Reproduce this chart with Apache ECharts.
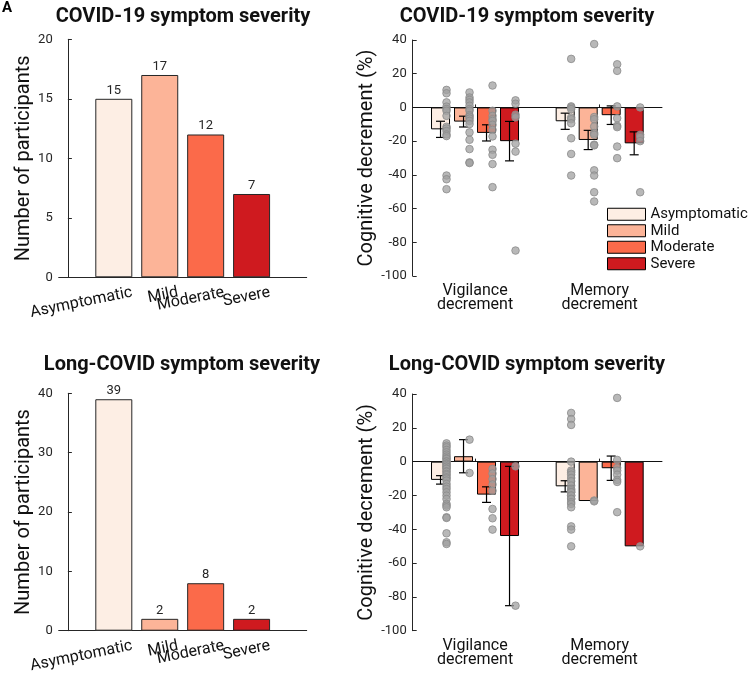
<!DOCTYPE html>
<html><head><meta charset="utf-8">
<script src="https://cdn.jsdelivr.net/npm/echarts@6/dist/echarts.min.js"></script>
<style>html,body{margin:0;padding:0;background:#fff}#c{width:750px;height:682px}</style>
</head><body><div id="c"></div>
<script>
// ---------- data ----------
const severities = ['Asymptomatic', 'Mild', 'Moderate', 'Severe'];
const severityColors = ['#fdeee4', '#fcb498', '#fb6a4a', '#cf1a1f'];
const tasks = ['Vigilance\ndecrement', 'Memory\ndecrement'];

const covidCounts = [15, 17, 12, 7];
const longCovidCounts = [39, 2, 8, 2];

// COVID-19 severity: mean & SE per severity, [vigilance, memory]
const covidMeans = [[-13, -8.2], [-8.4, -19.3], [-15.1, -4.6], [-20, -21.3]];
const covidSE = [[4.8, 4.8], [3.2, 5.7], [4.8, 5.5], [11.7, 6.8]];
const covidVig = [
  [10.4, 8.4, 3, 0.5, -1, -2, -5, -11.5, -12.5, -14, -16, -17, -40.4, -42.6, -48.5],
  [8.9, 5.9, 4.5, 3, 1, -1, -2, -4.6, -5.5, -6.6, -8, -9.9, -14.8, -19.2, -24.7, -32.6, -33],
  [13, -2, -5, -7, -8, -10.3, -13.3, -17.2, -25.1, -28.1, -33.6, -47.3],
  [4.2, 2.2, -4.3, -5.9, -21.5, -26.2, -84.9]
];
const covidMem = [
  [28.8, 0.6, 0, -1, -6, -7, -9.4, -18.3, -27.6, -40.4],
  [37.6, -5.7, -7, -11.3, -15.2, -16.2, -22.1, -22.5, -37.3, -40.4, -50.3, -55.8],
  [25.6, 21.7, 0.6, -6.4, -10.9, -11.7, -23.2, -30.1],
  [0, -16.2, -17.6, -20, -50.3]
];

// Long-COVID severity
const longMeans = [[-10.8, -14.6], [3.2, -23.3], [-19.5, -3.9], [-44, -50.1]];
const longSE = [[2.5, 3.3], [9.8, null], [4.6, 7.2], [41.2, null]];
const longVig = [
  [10.8, 9.5, 8.5, 6.9, 5.5, 4.1, 3, 2, 1.6, 0.2, 0, -1, -1.4, -2, -3, -3, -4, -4.3, -5.7, -6, -7.3, -8, -9.3, -10, -11.2, -13.2, -14.8, -16.2, -18.1, -20.1, -22.1, -25, -26, -27, -32.9, -33.3, -42.4, -47.7, -48.7],
  [13, -6.7],
  [-4.3, -7, -10.3, -13.5, -17.2, -28, -33.5, -40.2],
  [-2.8, -85.2]
];
const longMem = [
  [28.8, 25.2, 21.7, 0, -5.3, -6.3, -7.7, -9.7, -11.6, -14.2, -16.2, -17, -18, -18.1, -20, -20.1, -22, -22.1, -24, -25, -27, -38.3, -40.2, -50.1],
  [-23, -23.5],
  [37.7, 1, -3.7, -5.3, -7.7, -10.8, -12, -29.9],
  [-50.1]
];

// ---------- styling constants ----------
const FONT = 'Roboto, "Noto Sans", sans-serif';
const AX = '#262626';
const BAR_W = 19, BAR_GAP = 4, STEP = BAR_W + BAR_GAP, CAP = 4.5, DOT_DX = 6;
const LABEL_SHIFT = 0.4;

const chart = echarts.init(document.getElementById('c'));

// category positions 1..4 on a value axis; labels split over two stacked axes
// (odd / even) so the library does not drop overlapping rotated labels
function countAxisX(gi, parity, showLine) {
  const pos = severities.map((s, i) => i + 1).filter(p => p % 2 === parity);
  return {
    type: 'value', gridIndex: gi, min: -0.2, max: 5.2, position: 'bottom',
    axisLine: { show: showLine, lineStyle: { color: AX, width: 1 } },
    axisTick: { show: false }, splitLine: { show: false },
    axisLabel: {
      customValues: pos.map(v => v + LABEL_SHIFT),
      formatter: v => severities[Math.round(v - LABEL_SHIFT) - 1],
      hideOverlap: false,
      rotate: 11.5, fontSize: 16, margin: 15, color: '#111', fontFamily: FONT
    }
  };
}
function countAxisY(gi, max, interval) {
  return {
    type: 'value', gridIndex: gi, min: 0, max, interval,
    name: 'Number of participants', nameLocation: 'middle', nameGap: 20,
    nameTextStyle: { fontSize: 20, color: '#111', fontFamily: FONT },
    axisLine: { show: true, lineStyle: { color: AX, width: 1 } },
    axisTick: { show: true, inside: true, length: 4, lineStyle: { color: AX } },
    splitLine: { show: false },
    axisLabel: { fontSize: 13, color: AX, margin: 6, fontFamily: FONT }
  };
}
function decAxisX(gi) {
  return {
    type: 'category', gridIndex: gi, data: tasks, boundaryGap: true,
    axisLine: { show: true, lineStyle: { color: AX, width: 1 } },
    axisTick: { show: true, inside: true, length: 3, alignWithLabel: true, lineStyle: { color: AX } },
    axisLabel: { fontSize: 16, lineHeight: 14, color: '#111', margin: 8, fontFamily: FONT },
    splitLine: { show: false }
  };
}
function decAxisY(gi) {
  return {
    type: 'value', gridIndex: gi, min: -100, max: 40, interval: 20,
    name: 'Cognitive decrement (%)', nameLocation: 'middle', nameGap: 24,
    nameTextStyle: { fontSize: 20, color: '#111', fontFamily: FONT },
    axisLine: { show: true, onZero: false, lineStyle: { color: AX, width: 1 } },
    axisTick: { show: true, inside: true, length: 4, lineStyle: { color: AX } },
    splitLine: { show: false },
    axisLabel: { fontSize: 13, color: AX, margin: 6, fontFamily: FONT }
  };
}

function countSeries(counts, xi, yi) {
  return {
    type: 'bar', xAxisIndex: xi, yAxisIndex: yi, barWidth: 37,
    data: counts.map((v, i) => ({ value: [i + 1, v], itemStyle: { color: severityColors[i] } })),
    itemStyle: { borderColor: AX, borderWidth: 1 },
    label: { show: true, position: 'top', distance: 2, fontSize: 13, color: AX, fontFamily: FONT,
      formatter: p => p.value[1] },
    silent: true
  };
}

function meanSeries(means, xi, yi) {
  return means.map((m, k) => {
    const s = {
      type: 'bar', name: severities[k], xAxisIndex: xi, yAxisIndex: yi,
      barWidth: BAR_W, barGap: (BAR_GAP / BAR_W * 100) + '%',
      data: m, itemStyle: { color: severityColors[k], borderColor: '#000', borderWidth: 1 },
      silent: true
    };
    if (k === 0) {
      s.markLine = { silent: true, symbol: 'none', label: { show: false },
        lineStyle: { color: '#111', width: 1, type: 'solid' }, data: [{ yAxis: 0 }] };
    }
    return s;
  });
}

function errSeries(means, se, xi, yi) {
  const data = [];
  means.forEach((m, k) => m.forEach((v, c) => { if (se[k][c] != null) data.push([c, v, se[k][c], k]); }));
  return {
    type: 'custom', xAxisIndex: xi, yAxisIndex: yi, z: 5, silent: true, data,
    encode: { x: 0, y: 1 },
    renderItem(params, api) {
      const c = api.value(0), v = api.value(1), e = api.value(2), k = api.value(3);
      const off = (k - 1.5) * STEP;
      const p1 = api.coord([c, v + e]), p2 = api.coord([c, v - e]);
      const x = p1[0] + off;
      const st = { stroke: '#000', lineWidth: 1.2 };
      return { type: 'group', children: [
        { type: 'line', shape: { x1: x, y1: p1[1], x2: x, y2: p2[1] }, style: st },
        { type: 'line', shape: { x1: x - CAP, y1: p1[1], x2: x + CAP, y2: p1[1] }, style: st },
        { type: 'line', shape: { x1: x - CAP, y1: p2[1], x2: x + CAP, y2: p2[1] }, style: st }
      ] };
    }
  };
}

function dotSeries(vig, mem, xi, yi) {
  const data = [];
  [vig, mem].forEach((grp, c) => grp.forEach((arr, k) => arr.forEach(v => data.push([c, v, k]))));
  return {
    type: 'custom', xAxisIndex: xi, yAxisIndex: yi, z: 6, silent: true, data,
    encode: { x: 0, y: 1 },
    renderItem(params, api) {
      const c = api.value(0), v = api.value(1), k = api.value(2);
      const p = api.coord([c, v]);
      return { type: 'circle', shape: { cx: p[0] + (k - 1.5) * STEP + DOT_DX, cy: p[1], r: 3.8 },
        style: { fill: 'rgba(160,160,160,0.75)', stroke: '#8a8a8a', lineWidth: 0.8 } };
    }
  };
}

const titleStyle = { fontSize: 20, fontWeight: 'bold', color: '#111', fontFamily: FONT };

chart.setOption({
  animation: false,
  backgroundColor: '#fff',
  textStyle: { fontFamily: FONT },
  title: [
    { text: 'COVID-19 symptom severity', left: 178, top: 2, textAlign: 'center', textStyle: titleStyle },
    { text: 'COVID-19 symptom severity', left: 522, top: 2, textAlign: 'center', textStyle: titleStyle },
    { text: 'Long-COVID symptom severity', left: 177, top: 350, textAlign: 'center', textStyle: titleStyle },
    { text: 'Long-COVID symptom severity', left: 522, top: 350, textAlign: 'center', textStyle: titleStyle }
  ],
  graphic: [
    { type: 'text', left: 2, top: 1, style: { text: 'A', fontSize: 15, fontWeight: 'bold', fill: '#000', fontFamily: FONT } }
  ],
  legend: {
    data: severities, orient: 'vertical', left: 602, top: 201,
    itemWidth: 38, itemHeight: 12, itemGap: 0, icon: 'rect',
    itemStyle: { borderColor: '#000', borderWidth: 1 },
    textStyle: { fontSize: 15, color: '#111', lineHeight: 16.5, fontFamily: FONT },
    selectedMode: false
  },
  grid: [
    { left: 58.7, top: 39.3, width: 248, height: 238 },
    { left: 412.7, top: 40, width: 249.3, height: 236 },
    { left: 58.7, top: 393.3, width: 248, height: 237.4 },
    { left: 412.7, top: 394, width: 249.3, height: 236.7 }
  ],
  xAxis: [
    countAxisX(0, 1, true), countAxisX(0, 0, false), decAxisX(1),
    countAxisX(2, 1, true), countAxisX(2, 0, false), decAxisX(3)
  ],
  yAxis: [countAxisY(0, 20, 5), decAxisY(1), countAxisY(2, 40, 10), decAxisY(3)],
  series: [
    countSeries(covidCounts, 0, 0),
    ...meanSeries(covidMeans, 2, 1),
    errSeries(covidMeans, covidSE, 2, 1),
    dotSeries(covidVig, covidMem, 2, 1),
    countSeries(longCovidCounts, 3, 2),
    ...meanSeries(longMeans, 5, 3),
    errSeries(longMeans, longSE, 5, 3),
    dotSeries(longVig, longMem, 5, 3)
  ]
});
</script></body></html>
